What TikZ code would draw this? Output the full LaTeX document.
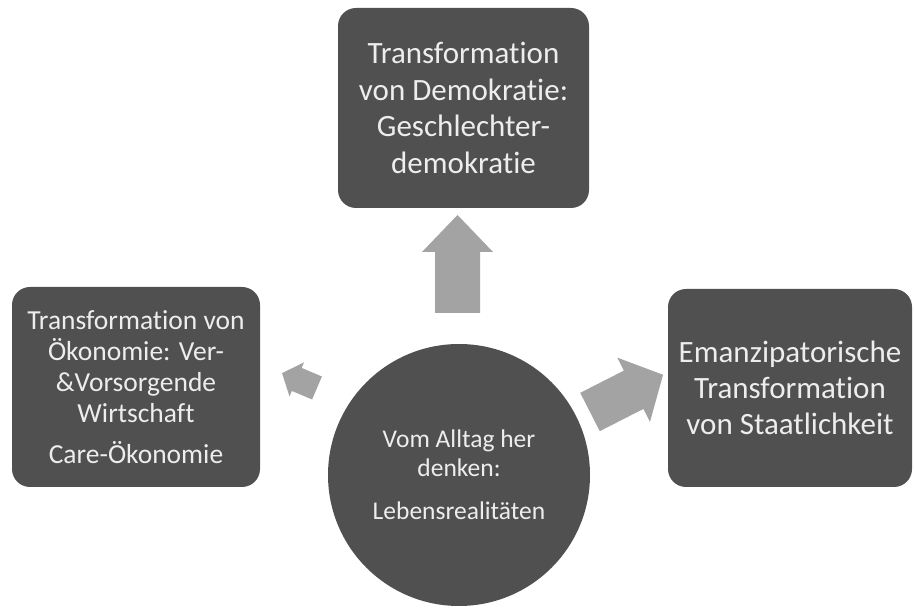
\documentclass[tikz,border=0pt]{standalone}
\usepackage{fontspec}
\setmainfont{Carlito}[Ligatures={NoCommon,NoRare,NoContextual},RawFeature={-liga;-dlig;-clig}]
\definecolor{boxgray}{HTML}{505050}
\definecolor{arrowgray}{HTML}{A3A3A3}
\definecolor{txtgray}{HTML}{EDEDED}
\newcommand\nolig{\kern0pt}
\newcommand\myblockarrow[4]{\fill[arrowgray] (0,-#2) -- ({#1-#4},-#2) -- ({#1-#4},-#3) -- (#1,0) -- ({#1-#4},#3) -- ({#1-#4},#2) -- (0,#2) -- cycle;}
\begin{document}
\begin{tikzpicture}[x=1pt,y=-1pt,
  darkbox/.style={draw=none, fill=boxgray, rounded corners=18pt, text=txtgray, align=center, inner sep=0pt},
  hub/.style={circle, fill=boxgray, text=txtgray, align=center, inner sep=0pt}]
\useasboundingbox (0,0) rectangle (914,609);
\fill[white] (0,0) rectangle (914,609);
\node[darkbox, minimum width=251pt, minimum height=200pt, font=\fontsize{31}{36.5}\selectfont] (ntop) at (463.5,108) {Transformat\nolig ion\\von Demokrat\nolig ie:\\Geschlechter-\\demokrat\nolig ie};
\node[darkbox, minimum width=248pt, minimum height=200pt, font=\fontsize{27.5}{31}\selectfont] (nleft) at (136,387) {Transformat\nolig ion von\\Ökonomie: Ver-\\\&Vorsorgende\\Wirtschaf\nolig t\\[10pt]Care-Ökonomie};
\node[darkbox, minimum width=244pt, minimum height=198pt, font=\fontsize{31}{36}\selectfont] (nright) at (790,388) {Emanzipatorische\\Transformat\nolig ion\\von Staatlichkeit};
\node[hub, minimum size=262pt, font=\fontsize{25.5}{28.5}\selectfont] (ncenter) at (459,475) {Vom Alltag her\\denken:\\[15pt]Lebensrealitäten};
\begin{scope}[shift={(457.5,313)}, rotate=90]
\myblockarrow{98}{22.5}{35.5}{37}
\end{scope}
\begin{scope}[shift={(590,412)}, rotate=27]
\myblockarrow{82}{21.5}{36}{33}
\end{scope}
\begin{scope}[shift={(317,388)}, rotate=157]
\myblockarrow{38}{12.5}{18.5}{16}
\end{scope}
\end{tikzpicture}
\end{document}
